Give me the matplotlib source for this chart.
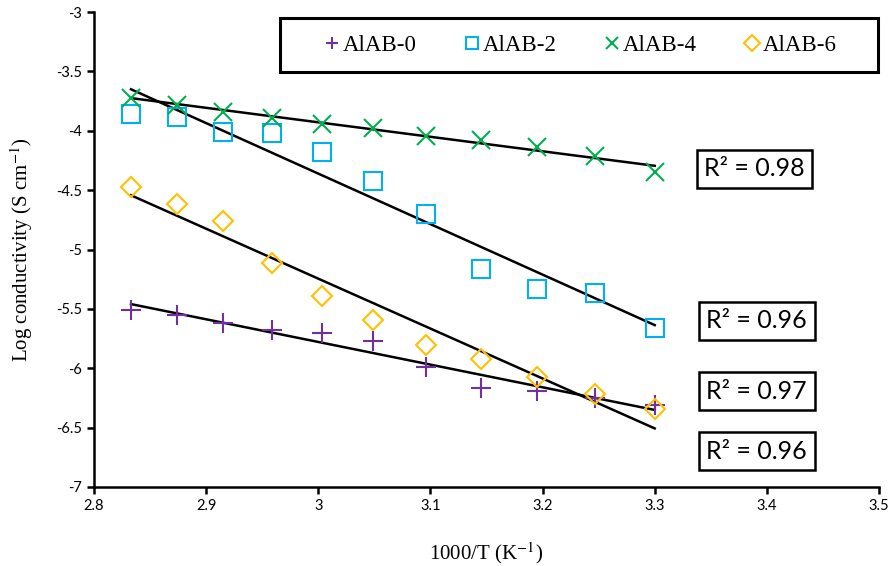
import numpy as np
import matplotlib
matplotlib.use("Agg")
import matplotlib.pyplot as plt
from matplotlib.patches import Rectangle

plt.rcParams["mathtext.fontset"] = "stix"

x = [2.833, 2.874, 2.915, 2.959, 3.003, 3.049, 3.096, 3.145, 3.195, 3.247, 3.300]
alab0 = [-5.51, -5.55, -5.62, -5.68, -5.70, -5.77, -5.99, -6.17, -6.19, -6.25, -6.31]
alab2 = [-3.86, -3.88, -4.01, -4.02, -4.18, -4.42, -4.70, -5.16, -5.33, -5.37, -5.66]
alab4 = [-3.72, -3.78, -3.84, -3.89, -3.94, -3.98, -4.04, -4.08, -4.14, -4.21, -4.35]
alab6 = [-4.47, -4.62, -4.76, -5.11, -5.39, -5.59, -5.80, -5.92, -6.07, -6.22, -6.34]
names = ["AlAB-0", "AlAB-2", "AlAB-4", "AlAB-6"]
r2_labels = ["R² = 0.98", "R² = 0.96", "R² = 0.97", "R² = 0.96"]
r2_pos = [(3.389, -4.322), (3.391, -5.602), (3.391, -6.192), (3.391, -6.697)]

fig = plt.figure(figsize=(8.93, 5.66), dpi=100)
ax = fig.add_axes([94/893, 1-487/566, (879-94)/893, (487-12)/566])

series = [alab0, alab2, alab4, alab6]
colors = ["#7030A0", "#00B0F0", "#00B050", "#FFC000"]
markers = ["+", "s", "x", "D"]
sizes = [14, 13, 13, 10]
xa = np.array(x)
for ys, c, m, s, n in zip(series, colors, markers, sizes, names):
    kw = dict(markerfacecolor="none") if m in ("s", "D") else {}
    ax.plot(x, ys, linestyle="none", marker=m, markersize=s, color=c,
            markeredgewidth=1.5, label=n, **kw)
    p = np.polyfit(xa, np.array(ys), 1)
    ax.plot([xa.min(), xa.max()], np.polyval(p, [xa.min(), xa.max()]),
            color="black", lw=1.8, zorder=1)

for t, (px, py) in zip(r2_labels, r2_pos):
    ax.text(px, py, t, fontsize=18, family="Lato", ha="center", va="center",
            bbox=dict(boxstyle="square,pad=0.3", fc="white", ec="black", lw=1.8))

ax.set_xlim(2.8, 3.5)
ax.set_ylim(-7, -3)
ax.set_xticks(np.arange(2.8, 3.51, 0.1))
ax.set_xticklabels(["2.8", "2.9", "3", "3.1", "3.2", "3.3", "3.4", "3.5"])
ax.set_yticks(np.arange(-7, -2.99, 0.5))
ax.set_yticklabels(["-7", "-6.5", "-6", "-5.5", "-5", "-4.5", "-4", "-3.5", "-3"])
for sp in ["top", "right"]:
    ax.spines[sp].set_visible(False)
for sp in ["left", "bottom"]:
    ax.spines[sp].set_linewidth(1.8)
ax.tick_params(direction="out", length=5, width=1.8, labelsize=10.5)
for lab in ax.get_xticklabels() + ax.get_yticklabels():
    lab.set_family("Lato")
ax.set_xlabel("1000/T (K$^{\\mathrm{-1}}$)", family="Liberation Serif", fontsize=15, labelpad=20)
ax.set_ylabel("Log conductivity (S cm$^{\\mathrm{-1}}$)", family="Liberation Serif", fontsize=15, labelpad=15)

leg = ax.legend(ncol=4, loc="center", bbox_to_anchor=(0.620, 0.9305),
                prop={"family": "Liberation Serif", "size": 16.5},
                handletextpad=0.18, columnspacing=2.1, handlelength=0.6,
                frameon=False, borderaxespad=0.0)
for h in leg.legend_handles:
    h.set_markersize(8)
ax.add_patch(Rectangle((0.237, 0.8737), 0.9987-0.237, 0.987-0.8737,
                       transform=ax.transAxes, fill=False, ec="black", lw=2.2,
                       clip_on=False, zorder=5))

fig.savefig("out.png", dpi=100)
